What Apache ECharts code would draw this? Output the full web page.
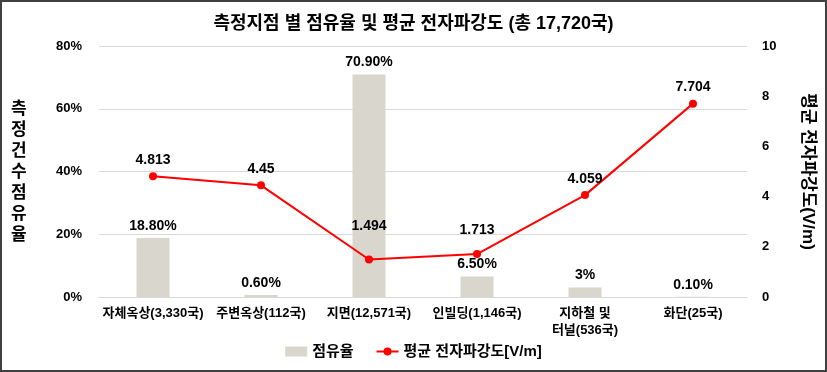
<!DOCTYPE html>
<html><head><meta charset="utf-8">
<script src="https://cdn.jsdelivr.net/npm/echarts@6/dist/echarts.min.js"></script>
<style>html,body{margin:0;padding:0;background:#fff;}#c{width:827px;height:372px;}</style>
</head><body><div id="c"></div>
<script>
const categories = ['자체옥상(3,330국)', '주변옥상(112국)', '지면(12,571국)', '인빌딩(1,146국)', '지하철 및\n터널(536국)', '화단(25국)'];
const shareValues = [18.8, 0.6, 70.9, 6.5, 3, 0.1];
const shareLabels = ['18.80%', '0.60%', '70.90%', '6.50%', '3%', '0.10%'];
const strengthValues = [4.813, 4.45, 1.494, 1.713, 4.059, 7.704];
const strengthLabels = ['4.813', '4.45', '1.494', '1.713', '4.059', '7.704'];
const labelLift = [0, 0, -17, -8, 0, 0];

const FONT = '"Liberation Sans", Arial, "Noto Sans CJK KR", sans-serif';
const chart = echarts.init(document.getElementById('c'));
chart.setOption({
  animation: false,
  textStyle: { fontFamily: FONT },
  title: {
    text: '측정지점 별 점유율 및 평균 전자파강도 (총 17,720국)',
    left: 'center', top: 10,
    textStyle: { fontSize: 18, fontWeight: 'bold', color: '#000', fontFamily: FONT }
  },
  grid: { left: 99, right: 80, top: 46, bottom: 75 },
  legend: {
    bottom: 8, left: 'center', itemGap: 22, itemWidth: 22, itemHeight: 10,
    textStyle: { fontSize: 15, fontWeight: 'bold', color: '#000', fontFamily: FONT },
    data: [
      { name: '점유율', icon: 'rect' },
      { name: '평균 전자파강도[V/m]' }
    ]
  },
  xAxis: {
    type: 'category', data: categories,
    axisLine: { show: true, lineStyle: { color: '#d9d9d9' } },
    axisTick: { show: false },
    axisLabel: { color: '#000', fontSize: 13, fontWeight: 'bold', lineHeight: 17, margin: 8, interval: 0, fontFamily: FONT }
  },
  yAxis: [
    {
      type: 'value', min: 0, max: 80, interval: 20,
      axisLabel: { formatter: '{value}%', color: '#000', fontSize: 13, fontWeight: 'bold', margin: 17, fontFamily: FONT },
      splitLine: { lineStyle: { color: '#d9d9d9' } },
      axisLine: { show: false }, axisTick: { show: false }
    },
    {
      type: 'value', min: 0, max: 10, interval: 2,
      position: 'right',
      name: '평균 전자파강도(V/m)', nameLocation: 'middle', nameRotate: -90, nameGap: 52,
      nameTextStyle: { fontSize: 17, fontWeight: 'bold', color: '#000', fontFamily: FONT },
      axisLabel: { color: '#000', fontSize: 13, fontWeight: 'bold', margin: 15, fontFamily: FONT },
      splitLine: { show: false },
      axisLine: { show: false }, axisTick: { show: false }
    }
  ],
  series: [
    {
      name: '점유율', type: 'bar', yAxisIndex: 0, barWidth: 33,
      itemStyle: { color: '#d9d6cd' },
      data: shareValues,
      label: {
        show: true, position: 'top', distance: 5, color: '#000', fontSize: 14, fontWeight: 'bold', fontFamily: FONT,
        formatter: p => shareLabels[p.dataIndex]
      }
    },
    {
      name: '평균 전자파강도[V/m]', type: 'line', yAxisIndex: 1,
      symbol: 'circle', symbolSize: 8,
      lineStyle: { color: '#ff0000', width: 2 },
      itemStyle: { color: '#ff0000' },
      data: strengthValues.map((v, i) => ({
        value: v,
        label: { offset: [0, labelLift[i]] }
      })),
      label: {
        show: true, position: 'top', distance: 5, color: '#000', fontSize: 14, fontWeight: 'bold', fontFamily: FONT,
        formatter: p => strengthLabels[p.dataIndex]
      }
    }
  ],
  graphic: [
    {
      type: 'rect', shape: { x: 1, y: 1, width: 825, height: 370 },
      style: { fill: 'none', stroke: '#404040', lineWidth: 2 }, silent: true, z: 100
    },
    {
      type: 'text', left: 11, top: 99,
      style: {
        text: '측\n정\n건\n수\n점\n유\n율',
        font: 'bold 17px ' + FONT, fill: '#000', lineHeight: 21, align: 'center'
      }
    }
  ]
});
</script></body></html>
